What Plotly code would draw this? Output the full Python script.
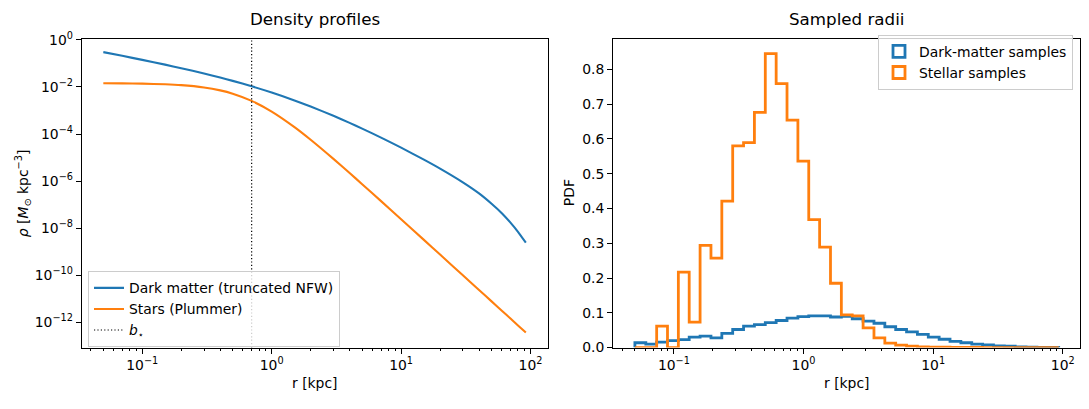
import plotly.graph_objects as go

# ---------------- data ----------------
r_kpc = [0.05, 0.07, 0.1, 0.15, 0.2, 0.3, 0.4, 0.5, 0.7, 1.0, 1.5, 2.0, 3.0, 4.0, 5.0,
         7.0, 10.0, 15.0, 20.0, 30.0, 40.0, 50.0, 60.0, 70.0, 80.0, 92.0]
rho_dm = [0.303, 0.2104, 0.1419, 0.0889, 0.0628, 0.0374, 0.0252, 0.01816, 0.01072,
          5.81e-3, 2.69e-3, 1.48e-3, 5.96e-4, 2.99e-4, 1.71e-4, 7.06e-5, 2.65e-5,
          8.22e-6, 3.42e-6, 8.95e-7, 3.03e-7, 1.10e-7, 4.37e-8, 1.74e-8, 7.08e-9, 2.43e-9]
rho_star = [1.435e-2, 1.419e-2, 1.384e-2, 1.300e-2, 1.197e-2, 9.55e-3, 7.18e-3, 5.19e-3,
            2.57e-3, 9.04e-4, 1.97e-4, 5.73e-5, 8.81e-6, 2.21e-6, 7.45e-7, 1.42e-7,
            2.42e-8, 3.20e-9, 7.62e-10, 1.00e-10, 2.39e-11, 7.82e-12, 3.14e-12,
            1.46e-12, 7.46e-13, 3.71e-13]
b_star = 0.7

bin_edges = [0.0500, 0.0607, 0.0736, 0.0892, 0.1082, 0.1312, 0.1592, 0.1931, 0.2342, 0.2841,
             0.3446, 0.4179, 0.5070, 0.6149, 0.7458, 0.9048, 1.0972, 1.3309, 1.6144, 1.9583,
             2.3751, 2.8812, 3.4947, 4.2383, 5.1404, 6.2345, 7.5613, 9.1726, 11.125, 13.494,
             16.368, 19.853, 24.078, 29.206, 35.427, 42.967, 52.114, 63.210, 76.667, 93.000]
pdf_dm = [0.014, 0.010, 0.016, 0.020, 0.023, 0.030, 0.033, 0.028, 0.041, 0.052,
          0.062, 0.066, 0.072, 0.078, 0.085, 0.089, 0.091, 0.091, 0.088, 0.090,
          0.083, 0.076, 0.070, 0.060, 0.052, 0.045, 0.038, 0.030, 0.024, 0.018,
          0.014, 0.010, 0.008, 0.005, 0.004, 0.002, 0.001, 0.0005, 0.0003]
pdf_star = [0.0, 0.0, 0.062, 0.0, 0.217, 0.073, 0.294, 0.257, 0.421, 0.580,
            0.589, 0.676, 0.845, 0.759, 0.654, 0.536, 0.368, 0.289, 0.185, 0.094,
            0.091, 0.057, 0.028, 0.013, 0.007, 0.004, 0.002, 0.0015, 0.001, 0.0006,
            0.0004, 0.0003, 0.0002, 0.0001, 0.0001, 0.0, 0.0, 0.0, 0.0]

left_ytickvals = [1e0, 1e-2, 1e-4, 1e-6, 1e-8, 1e-10, 1e-12]
left_yticktext = ["10<sup>0</sup>", "10<sup>−2</sup>", "10<sup>−4</sup>", "10<sup>−6</sup>",
                  "10<sup>−8</sup>", "10<sup>−10</sup>", "10<sup>−12</sup>"]
xtickvals = [0.1, 1, 10, 100]
xticktext = ["10<sup>−1</sup>", "10<sup>0</sup>", "10<sup>1</sup>", "10<sup>2</sup>"]
minor_x = [k * 10.0 ** d for d in (-2, -1, 0, 1) for k in range(2, 10)]

BLUE = "#1f77b4"
ORANGE = "#ff7f0e"
FONT = "DejaVu Sans"
W, H = 1089, 409

fig = go.Figure()

# ---------------- left panel ----------------
fig.add_trace(go.Scatter(x=r_kpc, y=rho_dm, mode="lines", line=dict(color=BLUE, width=2.1, shape="spline", smoothing=0.6),
                         name="Dark matter (truncated NFW)", xaxis="x", yaxis="y", legend="legend"))
fig.add_trace(go.Scatter(x=r_kpc, y=rho_star, mode="lines", line=dict(color=ORANGE, width=2.1, shape="spline", smoothing=0.6),
                         name="Stars (Plummer)", xaxis="x", yaxis="y", legend="legend"))
fig.add_trace(go.Scatter(x=[b_star, b_star], y=[1e-20, 1e5], mode="lines",
                         line=dict(color="black", width=1.2, dash="1.2px,2.2px"),
                         name="<i>b</i><sub>⋆</sub>", xaxis="x", yaxis="y", legend="legend"))


def step_path(edges, vals):
    xs = [edges[0]] + list(edges) + [edges[-1]]
    ys = [0] + list(vals) + [vals[-1], 0]
    return xs, ys


for vals, col, nm in [(pdf_dm, BLUE, "Dark-matter samples"), (pdf_star, ORANGE, "Stellar samples")]:
    xs, ys = step_path(bin_edges, vals)
    fig.add_trace(go.Scatter(x=xs, y=ys, mode="lines", line=dict(color=col, width=2.8, shape="hv"),
                             showlegend=False, xaxis="x2", yaxis="y2", cliponaxis=True))
    # legend patch (unfilled rectangle like matplotlib step hist)
    fig.add_trace(go.Bar(x=[None], y=[None], name=nm, xaxis="x2", yaxis="y2", legend="legend2",
                         marker=dict(color="rgba(0,0,0,0)", line=dict(color=col, width=2.8))))

dom_y = [1 - 353.3 / H, 1 - 31 / H]
dom_x1 = [81.7 / W, 548 / W]
dom_x2 = [613 / W, 1080 / W]

axis_common = dict(showline=True, linecolor="black", linewidth=1.1, mirror=True,
                   ticks="outside", ticklen=4.9, tickwidth=1.1, tickcolor="black",
                   showgrid=False, zeroline=False,
                   tickfont=dict(family=FONT, size=13.9, color="black"))
minor_log = dict(tickvals=minor_x, ticks="outside", ticklen=2.8, tickwidth=0.8,
                 tickcolor="black", showgrid=False)

fig.update_layout(
    width=W, height=H, autosize=False,
    margin=dict(l=0, r=0, t=0, b=0),
    paper_bgcolor="white", plot_bgcolor="white",
    font=dict(family=FONT, size=13.9, color="black"),
    xaxis=dict(domain=dom_x1, type="log", range=[-1.468, 2.135], tickvals=xtickvals, ticktext=xticktext,
               minor=minor_log, anchor="y", **axis_common),
    yaxis=dict(domain=dom_y, type="log", range=[-13.07, 0.05], tickvals=left_ytickvals,
               ticktext=left_yticktext, anchor="x", **axis_common),
    xaxis2=dict(domain=dom_x2, type="log", range=[-1.470, 2.133], tickvals=xtickvals, ticktext=xticktext,
                minor=minor_log, anchor="y2", **axis_common),
    yaxis2=dict(domain=dom_y, range=[0, 0.888], tickvals=[0, 0.1, 0.2, 0.3, 0.4, 0.5, 0.6, 0.7, 0.8],
                ticktext=["0.0", "0.1", "0.2", "0.3", "0.4", "0.5", "0.6", "0.7", "0.8"],
                anchor="x2", **axis_common),
    legend=dict(x=88 / W, y=1 - 353 / H, xanchor="left", yanchor="bottom",
                bgcolor="rgba(255,255,255,0.8)", bordercolor="#cccccc", borderwidth=1,
                font=dict(family=FONT, size=13.9), itemwidth=30, tracegroupgap=0),
    legend2=dict(x=1073 / W, y=1 - 27 / H, xanchor="right", yanchor="top",
                 bgcolor="rgba(255,255,255,0.8)", bordercolor="#cccccc", borderwidth=1,
                 font=dict(family=FONT, size=13.9), itemwidth=30, tracegroupgap=0),
    showlegend=True,
    bargap=0,
)

ann = []
# titles
ann.append(dict(text="Density profiles", x=(dom_x1[0] + dom_x1[1]) / 2, y=dom_y[1], xref="paper", yref="paper",
                xanchor="center", yanchor="bottom", yshift=8, showarrow=False, font=dict(size=16.7)))
ann.append(dict(text="Sampled radii", x=(dom_x2[0] + dom_x2[1]) / 2, y=dom_y[1], xref="paper", yref="paper",
                xanchor="center", yanchor="bottom", yshift=8, showarrow=False, font=dict(size=16.7)))
# axis labels
for dx in (dom_x1, dom_x2):
    ann.append(dict(text="r [kpc]", x=(dx[0] + dx[1]) / 2, y=1 - 390 / H, xref="paper", yref="paper",
                    xanchor="center", yanchor="middle", showarrow=False, font=dict(size=13.9)))
ann.append(dict(text="<i>ρ</i> [<i>M</i><sub>⊙</sub> kpc<sup>−3</sup>]", x=23 / W, y=(dom_y[0] + dom_y[1]) / 2,
                xref="paper", yref="paper", xanchor="center", yanchor="middle", textangle=-90,
                showarrow=False, font=dict(size=13.9)))
ann.append(dict(text="PDF", x=569 / W, y=(dom_y[0] + dom_y[1]) / 2,
                xref="paper", yref="paper", xanchor="center", yanchor="middle", textangle=-90,
                showarrow=False, font=dict(size=13.9)))
fig.update_layout(annotations=ann)

fig.write_html("out.html")
